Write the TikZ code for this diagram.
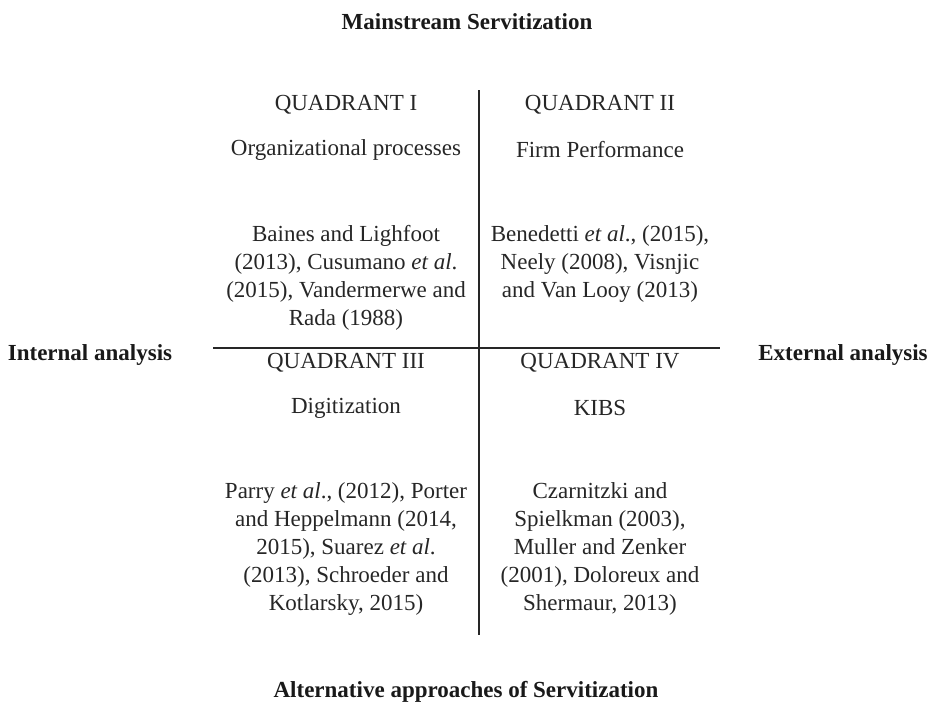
\documentclass[tikz,border=0pt]{standalone}
\usepackage{fontspec}
\setmainfont{Liberation Serif}
\begin{document}
\begin{tikzpicture}[x=0.5pt,y=-0.5pt,
  txt/.style={font=\fontsize{11.5}{14}\selectfont, align=center, inner sep=0pt, text=black!85},
  lbl/.style={font=\fontsize{11.5}{13}\selectfont\bfseries, inner sep=0pt, text=black!90},
  axis/.style={line width=1pt, black!85}]
\useasboundingbox (0,0) rectangle (929,701);
\coordinate (vt) at (479,90);
\coordinate (vb) at (479,635);
\coordinate (hl) at (213,348);
\coordinate (hr) at (720,348);
\draw[axis] (vt) -- (vb);
\draw[axis] (hl) -- (hr);
\node[lbl] (top) at (467,22) {Mainstream Servitization};
\node[lbl] (bot) at (466,692) {Alternative approaches of Servitization};
\node[lbl] (left) at (90,355) {Internal analysis};
\node[lbl] (right) at (843,355) {External analysis};
\node[txt] (q1) at (346,105) {QUADRANT I};
\node[txt] (q1t) at (346,150) {Organizational processes};
\node[txt] (q1c) at (346,278) {Baines and Lighfoot\\(2013), Cusumano \textit{et al}.\\(2015), Vandermerwe and\\Rada (1988)};
\node[txt] (q2) at (600,105) {QUADRANT II};
\node[txt] (q2t) at (600,150) {Firm Performance};
\node[txt] (q2c) at (600,264) {Benedetti \textit{et al}., (2015),\\Neely (2008), Visnjic\\and Van Looy (2013)};
\node[txt] (q3) at (346,363) {QUADRANT III};
\node[txt] (q3t) at (346,408) {Digitization};
\node[txt] (q3c) at (346,549) {Parry \textit{et al}., (2012), Porter\\and Heppelmann (2014,\\2015), Suarez \textit{et al}.\\(2013), Schroeder and\\Kotlarsky, 2015)};
\node[txt] (q4) at (600,363) {QUADRANT IV};
\node[txt] (q4t) at (600,408) {KIBS};
\node[txt] (q4c) at (600,549) {Czarnitzki and\\Spielkman (2003),\\Muller and Zenker\\(2001), Doloreux and\\Shermaur, 2013)};
\end{tikzpicture}
\end{document}
